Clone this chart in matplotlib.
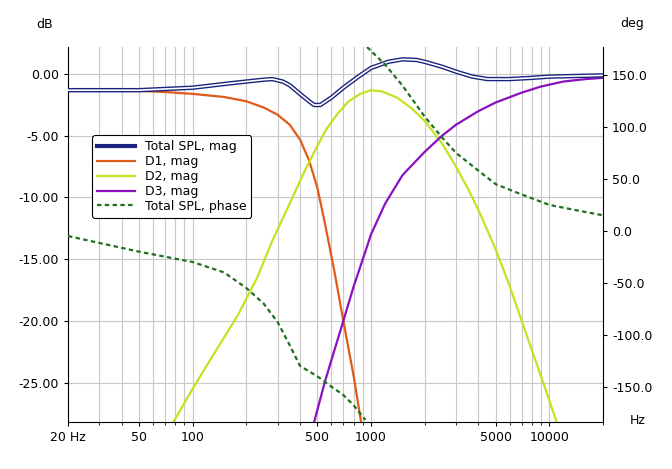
import matplotlib
matplotlib.use("Agg")
import matplotlib.pyplot as plt
from matplotlib.lines import Line2D
from matplotlib.ticker import FixedLocator, NullFormatter

total_f = [20, 50, 100, 150, 200, 250, 280, 320, 350, 400, 450, 480, 520, 600, 700, 850, 1000, 1250, 1500, 1800, 2000, 2500, 3000, 3700, 4500, 6000, 8000, 10000, 20000]
total_db = [-1.3, -1.3, -1.1, -0.8, -0.6, -0.45, -0.4, -0.6, -0.9, -1.6, -2.2, -2.5, -2.5, -1.9, -1.1, -0.2, 0.5, 1.0, 1.2, 1.15, 1.0, 0.6, 0.2, -0.2, -0.4, -0.4, -0.3, -0.2, -0.1]
d1_f = [40, 70, 100, 150, 200, 250, 300, 350, 400, 450, 500, 550, 620, 700, 800, 880]
d1_db = [-1.3, -1.45, -1.6, -1.85, -2.2, -2.7, -3.3, -4.1, -5.3, -7.0, -9.2, -12.0, -15.8, -20.0, -24.5, -28.2]
d2_f = [78, 100, 130, 180, 230, 280, 350, 420, 485, 560, 650, 750, 870, 1000, 1150, 1400, 1700, 2000, 2500, 3000, 3500, 4000, 5000, 6000, 7000, 8500, 11000]
d2_db = [-28.2, -25.5, -22.8, -19.5, -16.5, -13.5, -10.5, -8.0, -6.2, -4.5, -3.2, -2.2, -1.6, -1.3, -1.4, -1.9, -2.8, -3.8, -5.6, -7.5, -9.3, -11.0, -14.2, -17.2, -20.0, -23.5, -28.2]
d3_f = [480, 550, 620, 700, 800, 900, 1000, 1200, 1500, 2000, 2500, 3000, 4000, 5000, 7000, 9000, 12000, 16000, 20000]
d3_db = [-28.2, -25.0, -22.5, -20.0, -17.2, -15.0, -13.0, -10.5, -8.2, -6.3, -5.0, -4.1, -3.0, -2.3, -1.5, -1.0, -0.6, -0.4, -0.3]
ph1_f = [20, 50, 100, 150, 200, 250, 300, 350, 400, 500, 600, 700, 800, 930]
ph1_deg = [-5, -20, -30, -40, -55, -70, -88, -110, -130, -140, -150, -158, -168, -182]
ph2_f = [950, 1200, 1500, 2000, 2500, 3000, 4000, 5000, 7000, 10000, 15000, 20000]
ph2_deg = [177, 160, 140, 110, 90, 75, 58, 45, 35, 25, 19, 15]

fig = plt.figure(figsize=(6.72, 4.69), dpi=100)
ax = fig.add_axes([68 / 672, 47 / 469, 535 / 672, 375 / 469])
ax2 = ax.twinx()
ax.set_xscale("log")
ax.set_xlim(20, 20000)
ax.set_ylim(-28.2, 2.2)
ax2.set_ylim(-184, 177)

major = [20, 50, 100, 500, 1000, 5000, 10000]
ax.xaxis.set_major_locator(FixedLocator(major))
ax.set_xticklabels(["20 Hz", "50", "100", "500", "1000", "5000", "10000"])
minors = [m * d for d in (10, 100, 1000, 10000) for m in range(1, 10) if 20 <= m * d <= 20000]
ax.xaxis.set_minor_locator(FixedLocator(minors))
ax.xaxis.set_minor_formatter(NullFormatter())
ax.set_yticks([0, -5, -10, -15, -20, -25])
ax.set_yticklabels(["0.00", "-5.00", "-10.00", "-15.00", "-20.00", "-25.00"])
ax2.set_yticks([150, 100, 50, 0, -50, -100, -150])
ax2.set_yticklabels(["150.0", "100.0", "50.0", "0.0", "-50.0", "-100.0", "-150.0"])
ax.grid(True, which="both", axis="x", color="#c8c8c8", lw=0.8)
ax.grid(True, which="major", axis="y", color="#c8c8c8", lw=0.8)
for a in (ax, ax2):
    a.tick_params(labelsize=9, length=3)
    for s in a.spines.values():
        s.set_visible(False)
ax.spines["left"].set_visible(True)
ax.spines["bottom"].set_visible(True)
ax2.spines["right"].set_visible(True)

ax.plot(total_f, total_db, color="#1a237e", lw=3.2, zorder=5)
ax.plot(total_f, total_db, color="white", lw=1.2, zorder=6)
l1, = ax.plot(d1_f, d1_db, color="#e05a1a", lw=1.6)
l2, = ax.plot(d2_f, d2_db, color="#c8e020", lw=1.6)
l3, = ax.plot(d3_f, d3_db, color="#8a10c0", lw=1.6)
p1, = ax2.plot(ph1_f, ph1_deg, color="#207020", lw=1.6, ls=(0, (2, 1.5)))
ax2.plot(ph2_f, ph2_deg, color="#207020", lw=1.6, ls=(0, (2, 1.5)))

tot = Line2D([], [], color="#1a237e", lw=3)
leg = ax2.legend([tot, l1, l2, l3, p1],
                 ["Total SPL, mag", "D1, mag", "D2, mag", "D3, mag", "Total SPL, phase"],
                 loc="upper left", bbox_to_anchor=(18 / 535, 293 / 375), fontsize=9,
                 frameon=True, fancybox=True, edgecolor="black", handlelength=3,
                 labelspacing=0.15, borderpad=0.4, framealpha=1)
leg.get_frame().set_linewidth(0.8)

fig.text(45 / 672, 1 - 24 / 469, "dB", fontsize=9, ha="center", va="center")
fig.text(632 / 672, 1 - 24 / 469, "deg", fontsize=9, ha="center", va="center")
fig.text(638 / 672, 1 - 420 / 469, "Hz", fontsize=9, ha="center", va="center")
fig.savefig("out.png", dpi=100, facecolor="white")
